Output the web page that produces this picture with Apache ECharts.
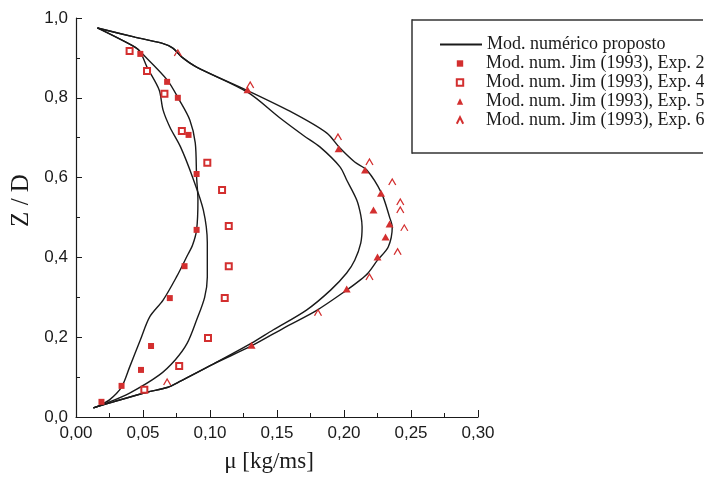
<!DOCTYPE html>
<html><head><meta charset="utf-8">
<script src="https://cdn.jsdelivr.net/npm/echarts@6/dist/echarts.min.js"></script>
<style>html,body{margin:0;padding:0;background:#fff;overflow:hidden}#c{width:704px;height:480px}</style>
</head><body><div id="c"></div>
<script>
// Tick labels
const xTickLabels = ['0,00', '0,05', '0,10', '0,15', '0,20', '0,25', '0,30'];
const yTickLabels = ['0,0', '0,2', '0,4', '0,6', '0,8', '1,0'];

// Legend names
const modelName = 'Mod. numérico proposto';
const exp2Name = 'Mod. num. Jim (1993), Exp. 2';
const exp4Name = 'Mod. num. Jim (1993), Exp. 4';
const exp5Name = 'Mod. num. Jim (1993), Exp. 5';
const exp6Name = 'Mod. num. Jim (1993), Exp. 6';

// Model curves [mu, Z/D]
const curveExp2 = [[0.016,0.975],[0.044,0.927],[0.049,0.912],[0.068,0.845],[0.077,0.795],[0.085,0.744],[0.089,0.687],[0.090,0.601],[0.091,0.544],[0.090,0.469],[0.087,0.431],[0.083,0.404],[0.075,0.351],[0.065,0.293],[0.055,0.251],[0.048,0.193],[0.040,0.125],[0.034,0.075],[0.025,0.043],[0.018,0.030],[0.013,0.023]];
const curveExp4 = [[0.016,0.975],[0.044,0.927],[0.048,0.915],[0.053,0.877],[0.062,0.820],[0.065,0.769],[0.070,0.727],[0.078,0.677],[0.087,0.601],[0.095,0.519],[0.098,0.436],[0.098,0.351],[0.096,0.300],[0.090,0.243],[0.083,0.185],[0.074,0.143],[0.062,0.105],[0.040,0.060],[0.023,0.035],[0.013,0.023]];
const curveExp5 = [[0.016,0.975],[0.044,0.952],[0.064,0.937],[0.072,0.925],[0.079,0.902],[0.090,0.877],[0.128,0.818],[0.162,0.762],[0.187,0.712],[0.197,0.674],[0.208,0.639],[0.217,0.619],[0.228,0.561],[0.234,0.501],[0.236,0.476],[0.233,0.426],[0.225,0.393],[0.218,0.361],[0.212,0.343],[0.202,0.318],[0.180,0.268],[0.155,0.223],[0.132,0.180],[0.102,0.132],[0.078,0.090],[0.068,0.074],[0.053,0.062],[0.028,0.038],[0.013,0.023]];
const curveExp6 = [[0.016,0.975],[0.044,0.952],[0.064,0.937],[0.072,0.925],[0.079,0.902],[0.090,0.877],[0.128,0.814],[0.152,0.750],[0.170,0.705],[0.182,0.677],[0.197,0.627],[0.202,0.594],[0.2095,0.544],[0.2125,0.506],[0.2135,0.476],[0.2125,0.436],[0.208,0.393],[0.202,0.361],[0.190,0.318],[0.172,0.268],[0.147,0.218],[0.131,0.185],[0.102,0.132],[0.078,0.090],[0.068,0.074],[0.053,0.062],[0.028,0.038],[0.013,0.023]];

// Reference points [mu, Z/D]
const pointsExp2 = [[0.048,0.910],[0.068,0.840],[0.076,0.800],[0.084,0.707],[0.090,0.609],[0.090,0.469],[0.081,0.378],[0.070,0.298],[0.056,0.178],[0.0485,0.118],[0.034,0.078],[0.019,0.038]];
const pointsExp4 = [[0.040,0.917],[0.053,0.867],[0.066,0.810],[0.079,0.717],[0.098,0.637],[0.109,0.569],[0.114,0.479],[0.114,0.378],[0.111,0.298],[0.0985,0.198],[0.077,0.128],[0.051,0.068]];
const pointsExp5 = [[0.128,0.820],[0.196,0.672],[0.2157,0.619],[0.2276,0.561],[0.222,0.519],[0.234,0.484],[0.231,0.451],[0.225,0.401],[0.202,0.321],[0.131,0.180]];
const pointsExp6 = [[0.076,0.912],[0.130,0.832],[0.1955,0.702],[0.219,0.639],[0.236,0.589],[0.242,0.539],[0.242,0.519],[0.245,0.474],[0.240,0.414],[0.219,0.351],[0.1806,0.261],[0.068,0.088]];

const RED = '#d32f2f';
const INK = '#1a1a1a';
const serif = 'Liberation Serif';
const sans = 'Liberation Sans';

function curveSeries(data) {
  return {
    type: 'line', name: modelName, data: data, smooth: 0.3,
    symbol: 'none', lineStyle: { color: INK, width: 1.4 }, itemStyle: { color: INK },
    z: 2, silent: true
  };
}
function markSeries(name, data, symbol, size, itemStyle) {
  return {
    type: 'line', name: name, data: data, symbol: symbol, symbolSize: size,
    showSymbol: true, showAllSymbol: true,
    lineStyle: { width: 0, opacity: 0 }, itemStyle: itemStyle, z: 3, silent: true
  };
}
const boxStyle = { stroke: '#333', lineWidth: 1.5 };

const chart = echarts.init(document.getElementById('c'), null, { renderer: 'canvas' });
chart.setOption({
  animation: false,
  backgroundColor: '#fff',
  grid: { left: 76, right: 226, top: 18, bottom: 63, containLabel: false },
  xAxis: {
    type: 'value', min: 0, max: 0.3, interval: 0.05,
    name: 'μ [kg/ms]', nameLocation: 'middle', nameGap: 33,
    nameTextStyle: { fontFamily: serif, fontSize: 23, color: INK, padding: [0, 16, 0, 0] },
    axisLine: { show: true, onZero: false, lineStyle: { color: INK, width: 1.2 } },
    axisTick: { show: true, inside: true, length: 7, lineStyle: { color: INK, width: 1 } },
    minorTick: { show: true, splitNumber: 2, length: 4, lineStyle: { color: INK, width: 1 } },
    splitLine: { show: false },
    axisLabel: { fontFamily: sans, fontSize: 17, color: INK, margin: 8,
      formatter: v => xTickLabels[Math.round(v / 0.05)] }
  },
  yAxis: {
    type: 'value', min: 0, max: 1, interval: 0.2,
    name: 'Z / D', nameLocation: 'middle', nameGap: 40,
    nameTextStyle: { fontFamily: serif, fontSize: 25, color: INK, padding: [0, 0, 0, 34] },
    axisLine: { show: true, onZero: false, lineStyle: { color: INK, width: 1.2 } },
    axisTick: { show: true, inside: true, length: 6, lineStyle: { color: INK, width: 1 } },
    minorTick: { show: true, splitNumber: 2, length: 4, lineStyle: { color: INK, width: 1 } },
    splitLine: { show: false },
    axisLabel: { fontFamily: sans, fontSize: 17, color: INK, margin: 8,
      formatter: v => yTickLabels[Math.round(v / 0.2)] }
  },
  legend: [
    {
      data: [modelName], left: 439, top: 35, orient: 'vertical', padding: 0,
      itemWidth: 42, itemHeight: 8, itemGap: 0, itemStyle: { opacity: 0 },
      textStyle: { fontFamily: serif, fontSize: 18, color: INK, lineHeight: 19 },
      selectedMode: false
    },
    {
      data: [exp2Name, exp4Name, exp5Name, exp6Name], left: 439, top: 54, orient: 'vertical', padding: 0,
      itemWidth: 42, itemHeight: 8, itemGap: 0,
      textStyle: { fontFamily: serif, fontSize: 18, color: INK, lineHeight: 19 },
      selectedMode: false
    }
  ],
  graphic: [
    { type: 'line', shape: { x1: 412, y1: 20, x2: 703, y2: 20 }, style: boxStyle, silent: true },
    { type: 'line', shape: { x1: 412, y1: 153, x2: 703, y2: 153 }, style: boxStyle, silent: true },
    { type: 'line', shape: { x1: 412, y1: 19.25, x2: 412, y2: 153.75 }, style: boxStyle, silent: true }
  ],
  series: [
    curveSeries(curveExp2),
    curveSeries(curveExp4),
    curveSeries(curveExp5),
    curveSeries(curveExp6),
    markSeries(exp2Name, pointsExp2, 'rect', 6, { color: RED }),
    markSeries(exp4Name, pointsExp4, 'emptyRect', 6, { color: RED, borderColor: RED, borderWidth: 1.3 }),
    markSeries(exp5Name, pointsExp5, 'triangle', [8, 7], { color: RED }),
    markSeries(exp6Name, pointsExp6, 'path://M0,10L5,0L10,10', [7, 6], { color: 'transparent', borderColor: RED, borderWidth: 1.2 })
  ]
});
</script>
</body></html>
